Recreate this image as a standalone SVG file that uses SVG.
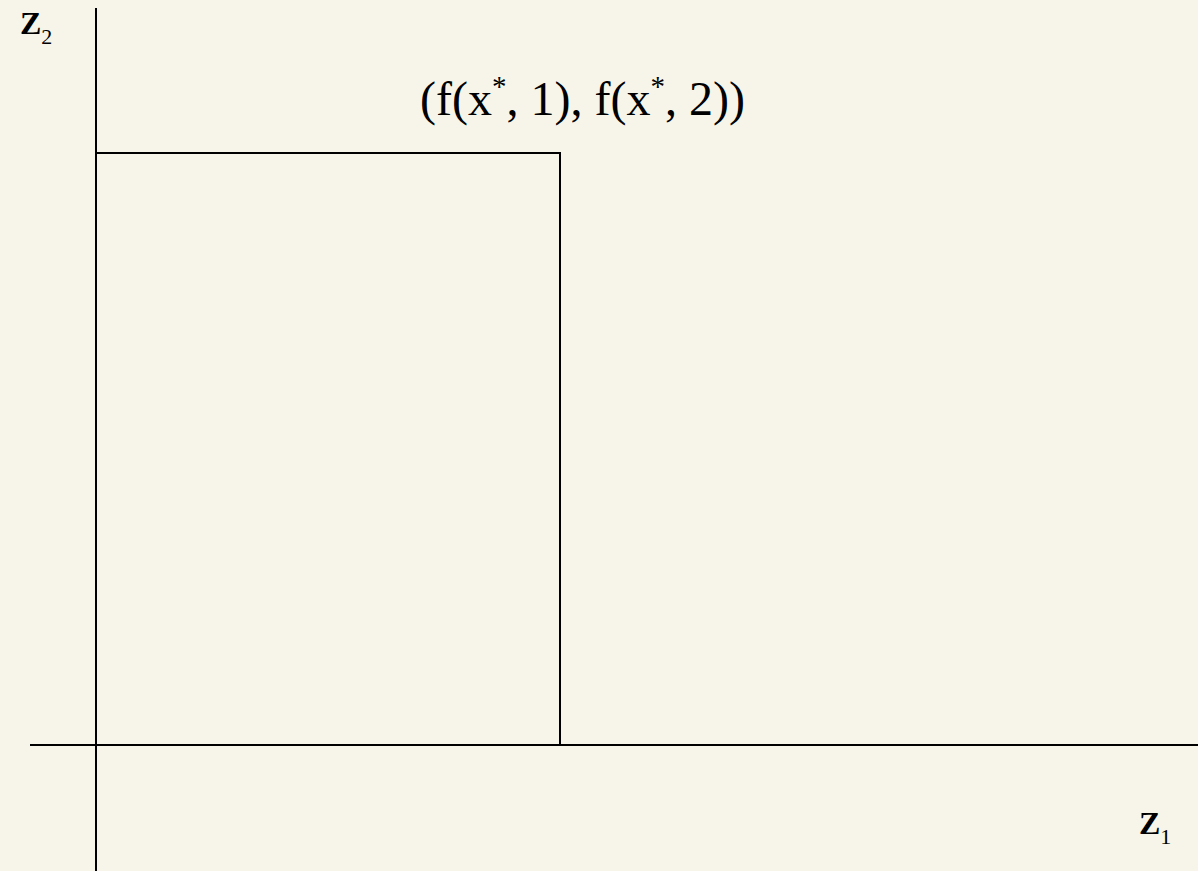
<svg xmlns="http://www.w3.org/2000/svg" width="1198" height="871" viewBox="0 0 1198 871">
<style>
.ln{stroke:#000;stroke-width:2;fill:none}
.t{font-family:"Liberation Serif","Times New Roman",serif;fill:#000}
.b{font-weight:bold}
.sub{font-weight:normal;font-size:22px}
</style>
<rect x="0" y="0" width="1198" height="871" fill="#F7F5EA"/>
<g id="connectors">
<line class="ln" x1="96" y1="8" x2="96" y2="871"/>
<line class="ln" x1="30" y1="745" x2="1198" y2="745"/>
</g>
<g id="box">
<polyline class="ln" points="96,153 560,153 560,745"/>
</g>
<g id="label-z2">
<text class="t b" x="20" y="34" font-size="32">Z<tspan class="sub" dy="10">2</tspan></text>
</g>
<g id="label-z1">
<text class="t b" x="1139" y="834" font-size="32">Z<tspan class="sub" dy="10">1</tspan></text>
</g>
<g id="label-point">
<text class="t" x="420" y="115" font-size="48">(f(x<tspan font-size="29" dy="-19">*</tspan><tspan dy="19">, 1), f(x</tspan><tspan font-size="29" dy="-19">*</tspan><tspan dy="19">, 2))</tspan></text>
</g>
</svg>
